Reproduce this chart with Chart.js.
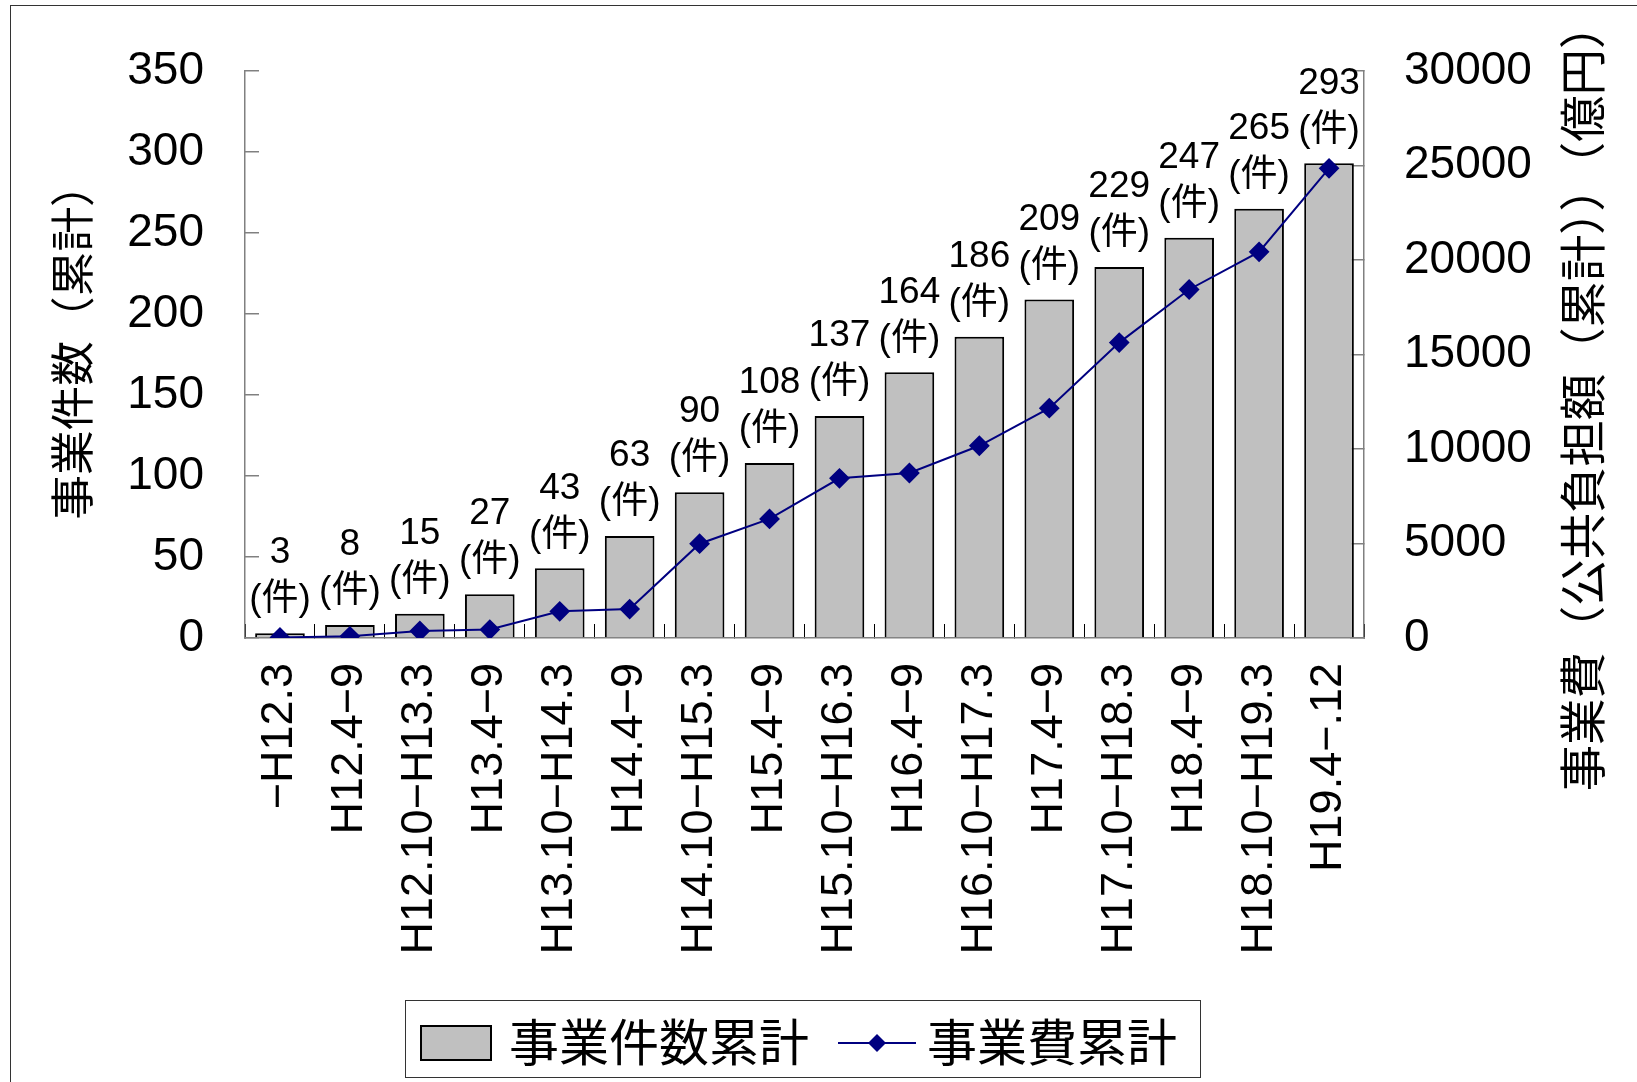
<!DOCTYPE html>
<html lang="ja">
<head>
<meta charset="utf-8">
<script src="https://cdn.jsdelivr.net/npm/chart.js@4.4.1/dist/chart.umd.min.js"></script>
<style>
  html, body { margin: 0; padding: 0; background: #fff; }
  #wrap { width: 1637px; height: 1082px; position: relative; }
</style>
</head>
<body>
<div id="wrap"><canvas id="myChart" width="1637" height="1082"></canvas></div>
<script>
// 期間（カテゴリ）
const periods = ['−H12.3', 'H12.4−9', 'H12.10−H13.3', 'H13.4−9', 'H13.10−H14.3', 'H14.4−9',
  'H14.10−H15.3', 'H15.4−9', 'H15.10−H16.3', 'H16.4−9', 'H16.10−H17.3', 'H17.4−9',
  'H17.10−H18.3', 'H18.4−9', 'H18.10−H19.3', 'H19.4−.12'];
// 事業件数累計（件）
const caseCounts = [3, 8, 15, 27, 43, 63, 90, 108, 137, 164, 186, 209, 229, 247, 265, 293];
// 事業費累計（億円）
const costTotals = [30, 90, 370, 445, 1410, 1530, 4990, 6300, 8450, 8730, 10170, 12160, 15630, 18440, 20430, 24850];
// 軸の目盛
const countAxis = { min: 0, max: 350, step: 50 };
const costAxis = { min: 0, max: 30000, step: 5000 };

const leftTitle = '事業件数（累計）';
const rightTitle = '事業費（公共負担額（累計））（億円）';
const legendNames = ['事業件数累計', '事業費累計'];

const NUM_FONT = "'Liberation Sans', 'Noto Sans CJK JP', sans-serif";
const JP_FONT = "'Noto Sans CJK JP', sans-serif";
const BAR_FILL = '#c0c0c0';
const LINE_COLOR = '#000080';

// 外枠
const framePlugin = {
  id: 'frame',
  beforeDraw(chart) {
    const c = chart.ctx;
    c.save();
    c.fillStyle = '#fff';
    c.fillRect(0, 0, chart.width, chart.height);
    c.strokeStyle = '#333';
    c.lineWidth = 1;
    c.strokeRect(10.5, 5.5, chart.width + 10, chart.height + 10);
    c.restore();
  }
};

// 棒の上の件数ラベル
const barLabelPlugin = {
  id: 'barLabels',
  afterDatasetsDraw(chart) {
    const c = chart.ctx;
    const meta = chart.getDatasetMeta(1);
    c.save();
    c.fillStyle = '#000';
    c.textAlign = 'center';
    c.textBaseline = 'middle';
    c.font = '37px ' + NUM_FONT;
    meta.data.forEach((bar, i) => {
      c.fillText(String(caseCounts[i]), bar.x, bar.y - 80);
      c.fillText('(件)', bar.x, bar.y - 33);
    });
    c.restore();
  }
};

// 軸タイトルと凡例
const decorPlugin = {
  id: 'decor',
  afterDraw(chart) {
    const c = chart.ctx;
    c.save();
    c.fillStyle = '#000';
    c.textAlign = 'center';
    c.textBaseline = 'middle';
    [[leftTitle, 72, 341, 44.7], [rightTitle, 1582, 397, 46.4]].forEach(([t, x, y, size]) => {
      c.save();
      c.font = size + 'px ' + JP_FONT;
      c.translate(x, y);
      c.rotate(-Math.PI / 2);
      c.fillText(t, 0, 0);
      c.restore();
    });

    // 凡例
    c.lineWidth = 1;
    c.strokeStyle = '#333';
    c.strokeRect(405.5, 1000.5, 795, 77);
    c.fillStyle = BAR_FILL;
    c.fillRect(421, 1026, 70, 34);
    c.lineWidth = 2;
    c.strokeStyle = '#000';
    c.strokeRect(421, 1026, 70, 34);
    c.strokeStyle = LINE_COLOR;
    c.beginPath();
    c.moveTo(838, 1043);
    c.lineTo(916, 1043);
    c.stroke();
    c.fillStyle = LINE_COLOR;
    c.beginPath();
    c.moveTo(877, 1034); c.lineTo(886, 1043); c.lineTo(877, 1052); c.lineTo(868, 1043);
    c.closePath();
    c.fill();
    c.fillStyle = '#000';
    c.textAlign = 'left';
    c.font = '50px ' + JP_FONT;
    c.fillText(legendNames[0], 509, 1042);
    c.fillText(legendNames[1], 927, 1042);
    c.restore();
  }
};

// 縦軸の余白計算を無効にしてプロット領域を固定
function fixVertical(width) {
  return (scale) => {
    scale.width = width;
    scale.paddingTop = 0;
    scale.paddingBottom = 0;
  };
}

const ctx = document.getElementById('myChart').getContext('2d');
const myChart = new Chart(ctx, {
  data: {
    labels: periods,
    datasets: [
      {
        type: 'line',
        label: legendNames[1],
        data: costTotals,
        yAxisID: 'y1',
        borderColor: LINE_COLOR,
        backgroundColor: LINE_COLOR,
        borderWidth: 2,
        pointStyle: 'rectRot',
        pointRadius: 9,
        pointHoverRadius: 9,
        tension: 0,
        order: 0
      },
      {
        type: 'bar',
        label: legendNames[0],
        data: caseCounts,
        yAxisID: 'y',
        backgroundColor: BAR_FILL,
        borderColor: '#000',
        borderWidth: 2,
        barPercentage: 0.71,
        categoryPercentage: 1.0,
        order: 1
      }
    ]
  },
  options: {
    responsive: false,
    animation: false,
    layout: { padding: { top: 71, bottom: 0, left: 0, right: 0 } },
    plugins: {
      legend: { display: false },
      tooltip: { enabled: false }
    },
    scales: {
      x: {
        position: 'bottom',
        grid: { drawOnChartArea: false, tickLength: -14, color: '#000', lineWidth: 1 },
        border: { color: '#808080', width: 1.5 },
        ticks: {
          autoSkip: false,
          minRotation: 90,
          maxRotation: 90,
          padding: 39,
          color: '#000',
          font: { family: NUM_FONT, size: 45 }
        },
        afterFit(scale) {
          scale.height = 1082 - 638;
          scale.paddingLeft = 0;
          scale.paddingRight = 0;
        }
      },
      y: {
        position: 'left',
        min: countAxis.min,
        max: countAxis.max,
        grid: { drawOnChartArea: false, tickLength: -14, color: '#808080', lineWidth: 1.5 },
        border: { color: '#808080', width: 1.5 },
        ticks: {
          stepSize: countAxis.step,
          padding: 55,
          color: '#000',
          font: { family: NUM_FONT, size: 46 }
        },
        afterFit: fixVertical(245)
      },
      y1: {
        position: 'right',
        min: costAxis.min,
        max: costAxis.max,
        grid: { drawOnChartArea: false, tickLength: -14, color: '#808080', lineWidth: 1.5 },
        border: { color: '#808080', width: 1.5 },
        ticks: {
          stepSize: costAxis.step,
          padding: 54,
          color: '#000',
          font: { family: NUM_FONT, size: 46 },
          callback: (v) => String(v)
        },
        afterFit: fixVertical(1637 - 1364)
      }
    }
  },
  plugins: [framePlugin, barLabelPlugin, decorPlugin]
});
</script>
</body>
</html>
